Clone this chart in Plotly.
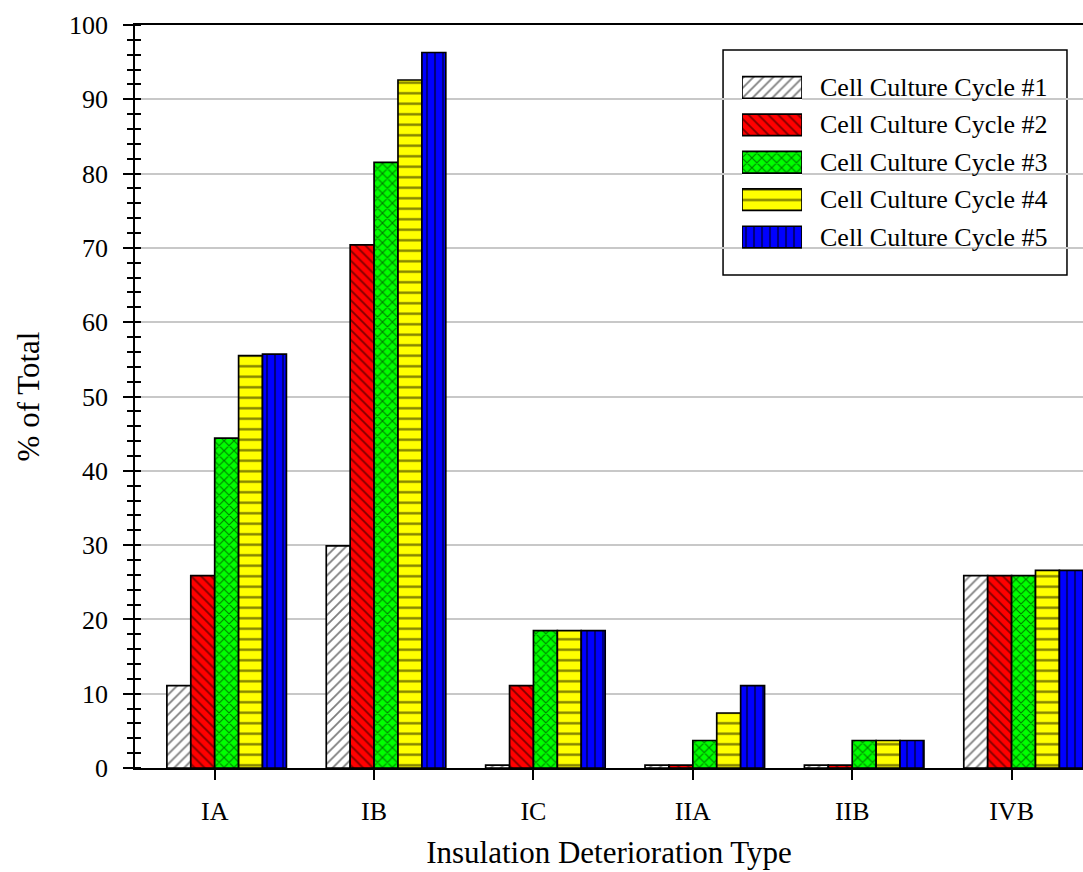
import plotly.graph_objects as go

# ---- data -------------------------------------------------------------
categories = ["IA", "IB", "IC", "IIA", "IIB", "IVB"]
series_names = [
    "Cell Culture Cycle #1",
    "Cell Culture Cycle #2",
    "Cell Culture Cycle #3",
    "Cell Culture Cycle #4",
    "Cell Culture Cycle #5",
]
cycle1 = [11.1, 29.9, 0.4, 0.4, 0.4, 25.9]
cycle2 = [25.9, 70.4, 11.1, 0.4, 0.4, 25.9]
cycle3 = [44.4, 81.5, 18.5, 3.7, 3.7, 25.9]
cycle4 = [55.5, 92.6, 18.5, 7.4, 3.7, 26.6]
cycle5 = [55.7, 96.3, 18.5, 11.1, 3.7, 26.6]
y_ticks = list(range(0, 101, 10))

# ---- styling ----------------------------------------------------------
FONT = "Liberation Serif"
fills = ["#ffffff", "#ff0000", "#00ff00", "#ffff00", "#0000ff"]
hatches = ["/", "\\", "x", "-", "|"]
hatch_sizes = [7, 7, 7, 10.5, 8]
hatch_solidity = [0.26, 0.26, 0.3, 0.22, 0.26]

BAR_WIDTH = 0.15          # width of one bar in category units
X_RANGE = [-0.5, 5.448]

all_series = [cycle1, cycle2, cycle3, cycle4, cycle5]
# groups sit half a bar to the right of each category tick
positions = [i + BAR_WIDTH / 2 for i in range(len(categories))]


def marker_for(k):
    return dict(
        color=fills[k],
        line=dict(color="black", width=1.7),
        pattern=dict(
            shape=hatches[k],
            fgcolor="black",
            size=hatch_sizes[k],
            solidity=hatch_solidity[k],
        ),
    )


fig = go.Figure()

for k, vals in enumerate(all_series):
    fig.add_trace(
        go.Bar(
            x=positions,
            y=vals,
            name=series_names[k],
            marker=marker_for(k),
            showlegend=False,
        )
    )

# ---- legend keys drawn in a small inset axis --------------------------
KEY_HEIGHT = 0.578
for k, name in enumerate(series_names):
    fig.add_trace(
        go.Bar(
            x=[1],
            y=[k],
            base=0,
            orientation="h",
            width=KEY_HEIGHT,
            offset=-KEY_HEIGHT / 2,
            marker=marker_for(k),
            xaxis="x2",
            yaxis="y2",
            showlegend=False,
            hoverinfo="skip",
        )
    )
    fig.add_annotation(
        x=0.7205, xref="paper",
        y=k, yref="y2",
        text=name,
        showarrow=False,
        xanchor="left", yanchor="middle",
        font=dict(family=FONT, size=26, color="black"),
    )

# legend frame
fig.add_shape(
    type="rect",
    xref="x domain", yref="y domain",
    x0=0.6203, x1=0.9831, y0=0.6635, y1=0.9664,
    line=dict(color="black", width=1.5),
    fillcolor="white",
    layer="below",
)

fig.update_layout(
    width=1083,
    height=872,
    margin=dict(l=135, r=0, t=25, b=104),
    paper_bgcolor="white",
    plot_bgcolor="white",
    barmode="group",
    bargap=0.25,
    bargroupgap=0,
    font=dict(family=FONT, color="black"),
    xaxis=dict(
        range=X_RANGE,
        tickmode="array",
        tickvals=list(range(len(categories))),
        ticktext=categories,
        ticks="outside",
        ticklen=10,
        tickwidth=1.5,
        tickcolor="black",
        ticklabelstandoff=9,
        tickfont=dict(family=FONT, size=26),
        showline=True,
        linecolor="black",
        linewidth=1.5,
        mirror=True,
        showgrid=False,
        zeroline=False,
        title=dict(
            text="Insulation Deterioration Type",
            font=dict(family=FONT, size=31),
            standoff=16,
        ),
    ),
    yaxis=dict(
        range=[0, 100],
        tickmode="array",
        tickvals=y_ticks,
        ticks="outside",
        ticklen=10,
        tickwidth=1.5,
        tickcolor="black",
        ticklabelstandoff=10,
        tickfont=dict(family=FONT, size=26),
        minor=dict(
            dtick=2,
            ticks="outside",
            ticklen=6,
            tickwidth=1.5,
            tickcolor="black",
            showgrid=False,
        ),
        showline=True,
        linecolor="black",
        linewidth=1.5,
        showgrid=True,
        gridcolor="#c8c8c8",
        gridwidth=1.5,
        zeroline=False,
        title=dict(
            text="% of Total",
            font=dict(family=FONT, size=31),
            standoff=20,
        ),
    ),
    # companion axis: the inner half of the minor ticks
    yaxis3=dict(
        overlaying="y",
        anchor="x",
        side="left",
        range=[0, 100],
        tickmode="array",
        tickvals=y_ticks,
        ticks="",
        showticklabels=False,
        minor=dict(
            dtick=2,
            ticks="inside",
            ticklen=6,
            tickwidth=1.5,
            tickcolor="black",
            showgrid=False,
        ),
        showgrid=False,
        zeroline=False,
        showline=False,
    ),
    xaxis2=dict(
        domain=[0.6403, 0.7036],
        range=[0, 1],
        anchor="y2",
        visible=False,
        fixedrange=True,
    ),
    yaxis2=dict(
        domain=[0.6894, 0.9411],
        range=[4.5, -0.5],
        anchor="x2",
        visible=False,
        fixedrange=True,
    ),
)

# an empty trace keeps the companion axis on the page
fig.add_trace(go.Scatter(x=[], y=[], yaxis="y3", showlegend=False, hoverinfo="skip"))

fig.write_html("out.html")
